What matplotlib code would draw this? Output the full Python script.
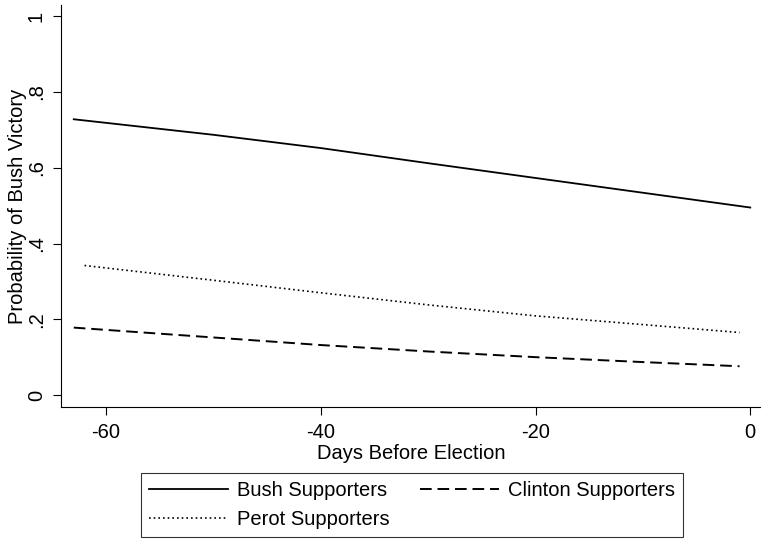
import matplotlib
matplotlib.use("Agg")
import matplotlib.pyplot as plt

plt.rcParams['font.family'] = ['Liberation Sans', 'DejaVu Sans']

bush_days = [-63, -50, -40, -30, -20, -10, 0]
bush_vals = [0.728, 0.687, 0.652, 0.612, 0.573, 0.534, 0.495]
clinton_days = [-63, -50, -40, -30, -20, -10, -1]
clinton_vals = [0.178, 0.152, 0.132, 0.115, 0.100, 0.087, 0.076]
perot_days = [-62, -50, -40, -30, -20, -10, -1]
perot_vals = [0.342, 0.303, 0.270, 0.238, 0.209, 0.186, 0.165]

xticks = [-60, -40, -20, 0]
yticks = [0, 0.2, 0.4, 0.6, 0.8, 1]
yticklabels = ['0', '.2', '.4', '.6', '.8', '1']

FS = 14.5

fig = plt.figure(figsize=(7.61, 5.40), dpi=100)
ax = fig.add_axes([0.080, 0.246, 0.92, 0.745])

lb, = ax.plot(bush_days, bush_vals, color='black', lw=1.3, linestyle='-')
lc, = ax.plot(clinton_days, clinton_vals, color='black', lw=1.4, linestyle=(0, (6, 3)))
lp, = ax.plot(perot_days, perot_vals, color='black', lw=1.2, linestyle=(0, (1, 1.8)))

ax.set_xlim(-64.2, 1.0)
ax.set_ylim(-0.032, 1.03)
ax.set_xticks(xticks)
ax.set_xticklabels([str(t) for t in xticks])
ax.set_yticks(yticks)
ax.set_yticklabels(yticklabels, rotation=90, va='center')
for s in ['top', 'right']:
    ax.spines[s].set_visible(False)
ax.tick_params(axis='both', labelsize=FS, length=5.8, width=0.8, direction='out')
ax.tick_params(axis='x', pad=5.5)
ax.tick_params(axis='y', pad=5)
ax.set_xlabel('Days Before Election', fontsize=FS, labelpad=1.5)
ax.set_ylabel('Probability of Bush Victory', fontsize=FS, labelpad=0)

leg = fig.legend([lb, lp, lc], ['Bush Supporters', 'Perot Supporters', 'Clinton Supporters'],
                 ncol=2, loc='center', bbox_to_anchor=(412/761, 1 - 505/540),
                 fontsize=FS, frameon=True, fancybox=False, edgecolor='black',
                 handlelength=3.9, columnspacing=1.55, labelspacing=0.5,
                 borderpad=0.4, handletextpad=0.45, borderaxespad=0)
leg.get_frame().set_linewidth(0.8)

fig.savefig('out.png', dpi=100, facecolor='white')
